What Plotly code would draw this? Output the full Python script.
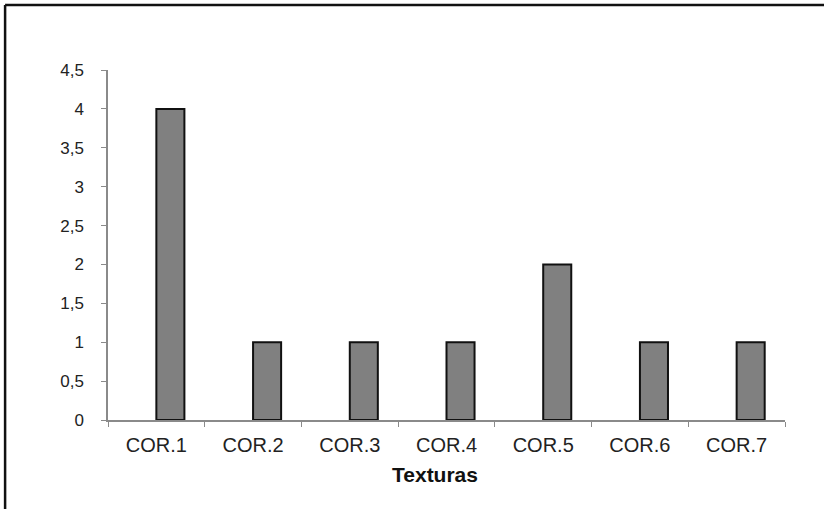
import plotly.graph_objects as go

categories = ["COR.1", "COR.2", "COR.3", "COR.4", "COR.5", "COR.6", "COR.7"]
values = [4, 1, 1, 1, 2, 1, 1]
y_ticks = [0, 0.5, 1, 1.5, 2, 2.5, 3, 3.5, 4, 4.5]
x_title = "Texturas"

axis_grey = "#8a8a8a"
font_family = "Liberation Sans, Arial, sans-serif"

fig = go.Figure()

# bars sit to the right of the category centre, like the original Excel chart
fig.add_trace(go.Bar(
    x=categories,
    y=values,
    width=0.29,
    offset=0.0,
    marker=dict(color="#808080", line=dict(color="#111111", width=2)),
    showlegend=False,
))

fig.update_layout(
    width=824, height=509,
    margin=dict(l=108, r=39, t=70, b=89),
    paper_bgcolor="white",
    plot_bgcolor="white",
    separators=",.",
    font=dict(family=font_family, color="#222222"),
)

fig.update_xaxes(
    showline=True, linecolor=axis_grey, linewidth=1.5,
    ticks="outside", tickson="boundaries", ticklen=5, tickcolor=axis_grey,
    showgrid=False, tickfont=dict(size=20), ticklabelstandoff=6,
)
fig.update_yaxes(
    range=[0, 4.5], tickvals=y_ticks,
    showline=True, linecolor=axis_grey, linewidth=1.5,
    ticks="outside", ticklen=5, tickcolor=axis_grey,
    showgrid=False, zeroline=False, tickfont=dict(size=17), ticklabelstandoff=14,
)

fig.add_annotation(
    text="<b>" + x_title + "</b>", xref="paper", yref="paper",
    x=0.483, y=-0.155, yanchor="middle", showarrow=False,
    font=dict(size=21, color="#111111"),
)

# black frame on top and left edge of the picture
fig.add_shape(type="line", xref="paper", yref="paper",
              x0=-0.152, y0=1.186, x1=1.2, y1=1.186,
              line=dict(color="#111111", width=2.5))
fig.add_shape(type="line", xref="paper", yref="paper",
              x0=-0.152, y0=-0.3, x1=-0.152, y1=1.186,
              line=dict(color="#111111", width=2.5))

# drop the default body margin so the figure fills the window exactly
fig.write_html("out.html", config={"displayModeBar": False},
               post_script="document.body.style.margin='0';")
